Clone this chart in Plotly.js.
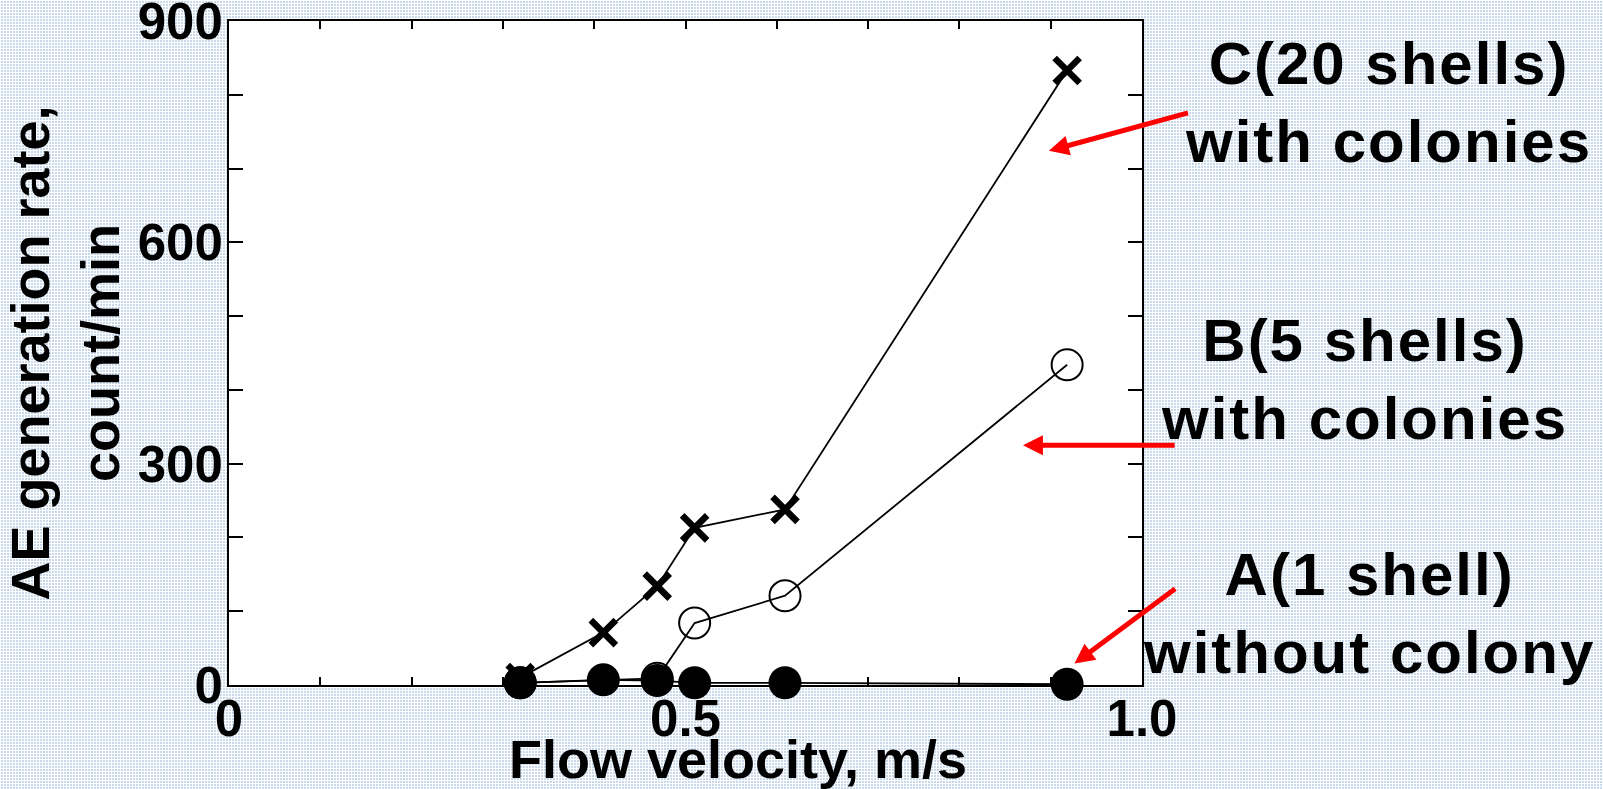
<!DOCTYPE html>
<html>
<head>
<meta charset="utf-8">
<script src="https://cdn.plot.ly/plotly-3.0.1.min.js"></script>
<style>
  html, body { margin: 0; padding: 0; }
  body {
    width: 1603px; height: 789px; overflow: hidden;
    background-color: #c9d9ec;
    background-image:
      linear-gradient(90deg, #ffffff 1px, transparent 1px),
      linear-gradient(#ffffff 1px, transparent 1px);
    background-size: 3px 3px;
  }
  #chart { width: 1603px; height: 789px; }
</style>
</head>
<body>
<div id="chart"></div>
<script>
// Flow velocity (m/s) and AE generation rate (count/min)
const velocityC = [0.319, 0.41, 0.469, 0.51, 0.609, 0.918];
const rateC     = [10, 71, 134, 213, 238, 833];

const velocityB = [0.319, 0.469, 0.51, 0.609, 0.918];
const rateB     = [3, 9, 84, 121, 434];

const velocityA = [0.319, 0.41, 0.469, 0.51, 0.609, 0.918];
const rateA     = [3, 7, 6, 3, 3, 1];

const xTickVals = [0, 0.5, 1.0];
const xTickText = ['0', '0.5', '1.0'];
const yTickVals = [0, 300, 600, 900];
const yTickText = ['0', '300', '600', '900'];

const seriesLabels = [
  'C(20 shells)<br>with colonies',
  'B(5 shells)<br>with colonies',
  'A(1 shell)<br>without colony'
];

const FONT = 'Liberation Sans, Arial, Helvetica, sans-serif';

const traces = [
  {
    x: velocityC, y: rateC, name: 'C', type: 'scatter', mode: 'lines+markers',
    line: { color: '#000', width: 1.8 },
    marker: { symbol: 'x-thin-open', size: 25, color: '#000', line: { color: '#000', width: 6.5 } },
    cliponaxis: false
  },
  {
    x: velocityB, y: rateB, name: 'B', type: 'scatter', mode: 'lines+markers',
    line: { color: '#000', width: 1.8 },
    marker: { symbol: 'circle-open', size: 31, color: '#000', line: { color: '#000', width: 2 } },
    cliponaxis: false
  },
  {
    x: velocityA, y: rateA, name: 'A', type: 'scatter', mode: 'lines+markers',
    line: { color: '#000', width: 1.8 },
    marker: { symbol: 'circle', size: 33, color: '#000', line: { width: 0 } },
    cliponaxis: false
  }
];

const labelStyle = (t) => '<span style="letter-spacing:2px">' + t.split('<br>').join('</span><br><span style="letter-spacing:2px">') + '</span>';

const annotations = [
  // series labels
  { xref: 'paper', yref: 'paper', x: 1.2698, y: 0.878, xanchor: 'center', yanchor: 'middle',
    text: labelStyle(seriesLabels[0]), showarrow: false, align: 'center',
    font: { family: FONT, size: 60, color: '#000', weight: 700 } },
  { xref: 'paper', yref: 'paper', x: 1.2436, y: 0.4597, xanchor: 'center', yanchor: 'middle',
    text: labelStyle(seriesLabels[1]), showarrow: false, align: 'center',
    font: { family: FONT, size: 60, color: '#000', weight: 700 } },
  { xref: 'paper', yref: 'paper', x: 1.249, y: 0.107, xanchor: 'center', yanchor: 'middle',
    text: labelStyle(seriesLabels[2]), showarrow: false, align: 'center',
    font: { family: FONT, size: 60, color: '#000', weight: 700 } },
  // red arrows
  { xref: 'x', yref: 'y', axref: 'x', ayref: 'y', x: 0.898, y: 724, ax: 1.052, ay: 776,
    text: '', showarrow: true, arrowhead: 2, arrowsize: 0.8, arrowwidth: 5, arrowcolor: '#ff0000' },
  { xref: 'x', yref: 'y', axref: 'x', ayref: 'y', x: 0.8696, y: 325, ax: 1.0374, ay: 325,
    text: '', showarrow: true, arrowhead: 2, arrowsize: 0.8, arrowwidth: 5, arrowcolor: '#ff0000' },
  { xref: 'x', yref: 'y', axref: 'x', ayref: 'y', x: 0.926, y: 29, ax: 1.038, ay: 132,
    text: '', showarrow: true, arrowhead: 2, arrowsize: 0.8, arrowwidth: 5, arrowcolor: '#ff0000' }
];

const layout = {
  width: 1603, height: 789,
  margin: { l: 229, r: 460.5, t: 21, b: 103.6, pad: 0 },
  paper_bgcolor: 'rgba(0,0,0,0)',
  plot_bgcolor: '#ffffff',
  showlegend: false,
  font: { family: FONT, color: '#000', weight: 700 },
  xaxis: {
    range: [0, 1.0], fixedrange: true,
    showgrid: false, zeroline: false,
    showline: true, linecolor: '#000', linewidth: 2, mirror: 'ticks',
    ticks: 'inside', ticklen: 8, tickwidth: 2, tickcolor: '#000',
    tickvals: xTickVals, ticktext: xTickText,
    ticklabelstandoff: -12, ticklabeloverflow: 'allow',
    tickfont: { family: FONT, size: 51, color: '#000', weight: 700 },
    minor: { dtick: 0.1, ticks: 'inside', ticklen: 8, tickwidth: 2, tickcolor: '#000', showgrid: false },
    title: { text: '&nbsp;&nbsp;&nbsp;&nbsp;&nbsp;&nbsp;&nbsp;Flow velocity, m/s', standoff: 10,
      font: { family: FONT, size: 54, color: '#000', weight: 700 } }
  },
  yaxis: {
    range: [0, 900], fixedrange: true,
    showgrid: false, zeroline: false,
    showline: true, linecolor: '#000', linewidth: 2, mirror: 'ticks',
    ticks: 'inside', ticklen: 14, tickwidth: 2, tickcolor: '#000',
    tickvals: yTickVals, ticktext: yTickText,
    ticklabelstandoff: -6, ticklabeloverflow: 'allow',
    tickfont: { family: FONT, size: 51, color: '#000', weight: 700 },
    minor: { dtick: 100, ticks: 'inside', ticklen: 14, tickwidth: 2, tickcolor: '#000', showgrid: false },
    title: { text: 'AE generation rate,<br>count/min', standoff: 12,
      font: { family: FONT, size: 54, color: '#000', weight: 700 } }
  },
  annotations: annotations
};

Plotly.newPlot('chart', traces, layout, { staticPlot: true, displayModeBar: false });
</script>
</body>
</html>
